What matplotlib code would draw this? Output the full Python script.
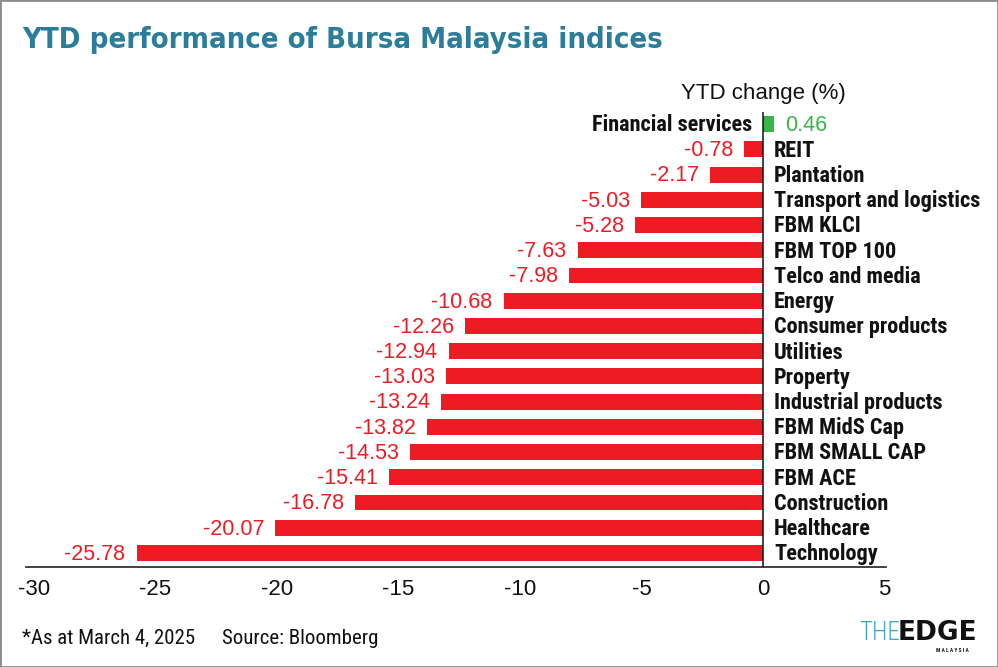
import matplotlib
matplotlib.use("Agg")
import matplotlib.pyplot as plt
from matplotlib import font_manager
from matplotlib.patches import Rectangle

# Data (YTD change, %)
categories = [
    "Financial services", "REIT", "Plantation", "Transport and logistics",
    "FBM KLCI", "FBM TOP 100", "Telco and media", "Energy",
    "Consumer products", "Utilities", "Property", "Industrial products",
    "FBM MidS Cap", "FBM SMALL CAP", "FBM ACE", "Construction",
    "Healthcare", "Technology",
]
ytd_change = [
    0.46, -0.78, -2.17, -5.03, -5.28, -7.63, -7.98, -10.68, -12.26,
    -12.94, -13.03, -13.24, -13.82, -14.53, -15.41, -16.78, -20.07, -25.78,
]
x_ticks = [-30, -25, -20, -15, -10, -5, 0, 5]

RED = "#ED1C24"
GREEN = "#39B54A"
TEAL = "#2B7D99"


def pick_font(candidates):
    """Returns the first installed family from candidates."""
    names = {f.name for f in font_manager.fontManager.ttflist}
    for c in candidates:
        if c in names:
            return c
    return "DejaVu Sans"


def plot_ytd(path="out.png"):
    narrow = pick_font(["Roboto Condensed", "Liberation Sans Narrow",
                        "Open Sans Condensed", "DejaVu Sans Condensed"])
    plain = pick_font(["Liberation Sans", "Arimo", "DejaVu Sans"])
    plt.rcParams["font.family"] = [narrow, "DejaVu Sans"]
    plt.rcParams["font.stretch"] = "condensed"

    fig = plt.figure(figsize=(9.98, 6.67), dpi=100)
    ax = fig.add_axes([26 / 998, 1 - 566.7 / 667,
                       (886 - 26) / 998, (566.7 - 112) / 667])

    ypos = list(range(len(categories)))
    colors = [GREEN if v > 0 else RED for v in ytd_change]
    ax.barh(ypos, ytd_change, height=0.63, color=colors, zorder=2)

    # names next to the zero line, values at the bar ends
    for y, name, v in zip(ypos, categories, ytd_change):
        side = 1 if v < 0 else -1
        ax.annotate(name, (0, y), xytext=(8 * side, -1),
                    textcoords="offset points",
                    ha="left" if v < 0 else "right", va="center",
                    fontsize=16, fontweight="bold", color="#111111")
        ax.annotate(f"{v:.2f}", (v, y), xytext=(-8 * side, -1),
                    textcoords="offset points",
                    ha="right" if v < 0 else "left", va="center",
                    fontsize=15.5, color=RED if v < 0 else GREEN,
                    family=[plain], stretch="normal")

    ax.axvline(0, color="#111111", lw=1.1, zorder=3)
    ax.set_xlim(-30.33, 5.06)
    ax.set_ylim(len(categories) - 1 + 0.545, -0.48)

    for s in ("top", "right", "left"):
        ax.spines[s].set_visible(False)
    ax.spines["bottom"].set_color("#333333")
    ax.spines["bottom"].set_linewidth(1.3)
    ax.set_yticks([])
    ax.set_xticks(x_ticks)
    ax.set_xticklabels([str(t) for t in x_ticks], family=[plain],
                       stretch="normal")
    ax.tick_params(axis="x", length=0, pad=9, labelsize=16, labelcolor="#111111")

    ax.text(0, -1.22, "YTD change (%)", ha="center", va="center",
            fontsize=16, color="#111111", family=[plain], stretch="normal")

    fig.text(22 / 998, 1 - 40 / 667, "YTD performance of Bursa Malaysia indices",
             ha="left", va="center", fontsize=21, fontweight="bold",
             color=TEAL, family=["DejaVu Sans"], stretch="condensed")
    fig.text(22 / 998, 1 - 638 / 667, "*As at March 4, 2025",
             ha="left", va="center", fontsize=15, color="#111111")
    fig.text(222 / 998, 1 - 638 / 667, "Source: Bloomberg",
             ha="left", va="center", fontsize=15, color="#111111")

    # publisher mark, bottom right
    fig.text(859 / 998, 1 - 633 / 667, "THE", ha="left", va="center",
             fontsize=18, fontweight="light", color="#3FA6C2")
    fig.text(898 / 998, 1 - 633 / 667, "EDGE", ha="left", va="center",
             fontsize=19, fontweight="black", color="#111111",
             family=["DejaVu Sans"], stretch="normal")
    fig.text(952 / 998, 1 - 650 / 667, "M A L A Y S I A", ha="center",
             va="center", fontsize=4, fontweight="bold", color="#111111")

    fig.patches.append(Rectangle((0, 0), 1, 1, transform=fig.transFigure,
                                 fill=False, edgecolor="#8C8C8C", lw=2))

    fig.savefig(path, dpi=100, facecolor="white")
    plt.close(fig)


def main():
    plot_ytd("out.png")


if __name__ == "__main__":
    main()
